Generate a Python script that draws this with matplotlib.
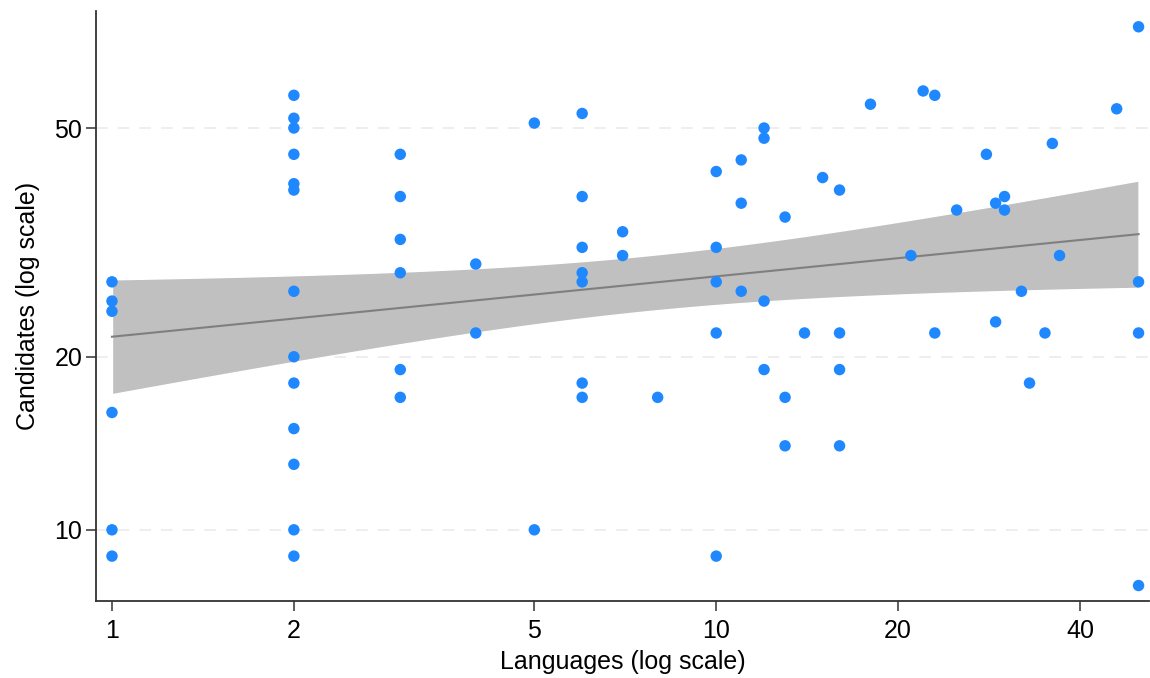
import matplotlib
matplotlib.use("Agg")
import matplotlib.pyplot as plt
from matplotlib.ticker import FixedLocator, FixedFormatter, NullLocator
import numpy as np

plt.rcParams['font.family'] = ['Liberation Sans', 'DejaVu Sans']

# Данные: число языков и число кандидатов
languages = [
    1, 1, 1, 1, 1, 1,
    2, 2, 2, 2, 2, 2, 2, 2, 2, 2, 2, 2, 2,
    3, 3, 3, 3, 3, 3,
    4, 4,
    5, 5,
    6, 6, 6, 6, 6, 6, 6,
    7, 7,
    8,
    10, 10, 10, 10, 10,
    11, 11, 11,
    12, 12, 12, 12,
    13, 13, 13,
    14,
    15,
    16, 16, 16, 16,
    18,
    21,
    22,
    23, 23,
    25,
    28,
    29, 29,
    30, 30,
    32,
    33,
    35,
    36,
    37,
    46,
    50, 50, 50, 50,
]
candidates = [
    27, 25, 24, 16, 10, 9,
    57, 52, 50, 45, 40, 39, 26, 20, 18, 15, 13, 10, 9,
    45, 38, 32, 28, 19, 17,
    29, 22,
    51, 10,
    53, 38, 31, 28, 27, 18, 17,
    33, 30,
    17,
    42, 31, 27, 22, 9,
    44, 37, 26,
    50, 48, 25, 19,
    35, 17, 14,
    22,
    41,
    39, 22, 19, 14,
    55,
    30,
    58,
    57, 22,
    36,
    45,
    37, 23,
    38, 36,
    26,
    18,
    22,
    47,
    30,
    54,
    75, 27, 22, 8,
]

x_ticks = [1, 2, 5, 10, 20, 40]
y_ticks = [10, 20, 50]

x = np.array(languages, dtype=float)
y = np.array(candidates, dtype=float)

# Линейная регрессия в логарифмах + 95% доверительный интервал
lx, ly = np.log(x), np.log(y)
n = len(lx)
b, a = np.polyfit(lx, ly, 1)
resid = ly - (a + b * lx)
s = np.sqrt(np.sum(resid ** 2) / (n - 2))
sxx = np.sum((lx - lx.mean()) ** 2)
t_crit = 1.99
xg = np.linspace(lx.min(), lx.max(), 200)
yg = a + b * xg
se = s * np.sqrt(1.0 / n + (xg - lx.mean()) ** 2 / sxx)

fig = plt.figure(figsize=(11.5, 6.78), dpi=100)
ax = fig.add_axes([0.0835, 0.1136, 0.9155, 0.8702])

ax.fill_between(np.exp(xg), np.exp(yg - t_crit * se), np.exp(yg + t_crit * se),
                facecolor='#c0c0c0', edgecolor='white', linewidth=1.0, zorder=1)
ax.plot(np.exp(xg), np.exp(yg), color='#7f7f7f', linewidth=1.5, zorder=2)
ax.scatter(x, y, s=68, color='#1f88ff', edgecolors='none', zorder=3)

ax.set_xscale('log')
ax.set_yscale('log')
ax.set_xlim(0.941, 52.0)
ax.set_ylim(7.52, 79.9)

ax.xaxis.set_major_locator(FixedLocator(x_ticks))
ax.xaxis.set_major_formatter(FixedFormatter([str(v) for v in x_ticks]))
ax.xaxis.set_minor_locator(NullLocator())
ax.yaxis.set_major_locator(FixedLocator(y_ticks))
ax.yaxis.set_major_formatter(FixedFormatter([str(v) for v in y_ticks]))
ax.yaxis.set_minor_locator(NullLocator())

for v in y_ticks:
    ax.axhline(v, color='#ebebeb', linewidth=1.2, linestyle=(0, (7, 6)), zorder=0)

for side in ['top', 'right']:
    ax.spines[side].set_visible(False)
for side in ['left', 'bottom']:
    ax.spines[side].set_color('#333333')
    ax.spines[side].set_linewidth(1.3)

ax.tick_params(axis='both', direction='out', length=7, width=1.1, color='#333333',
               labelsize=18, labelcolor='#000000')
ax.tick_params(axis='x', pad=6)
ax.tick_params(axis='y', pad=3)

ax.set_xlabel("Languages (log scale)", fontsize=18, color='#000000', labelpad=5)
ax.set_ylabel("Candidates (log scale)", fontsize=18, color='#000000', labelpad=10)

fig.savefig("out.png", dpi=100)
